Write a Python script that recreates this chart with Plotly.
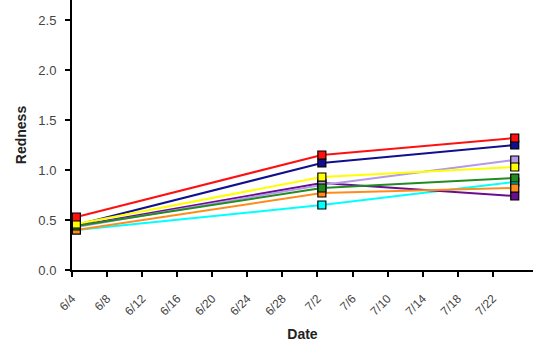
import pandas as pd
import plotly.graph_objects as go

# Sampling dates and redness scores per treatment
dates = ["2023-06-04", "2023-07-02", "2023-07-24"]
cyan_vals = [0.40, 0.65, 0.88]
purple_vals = [0.44, 0.87, 0.74]
lavender_vals = [0.43, 0.85, 1.10]
blue_vals = [0.45, 1.07, 1.25]
orange_vals = [0.40, 0.77, 0.82]
green_vals = [0.44, 0.82, 0.92]
yellow_vals = [0.46, 0.93, 1.03]
red_vals = [0.53, 1.15, 1.32]

tick_dates = pd.date_range("2023-06-04", "2023-07-22", freq="4D")
tick_text = [f"{d.month}/{d.day}" for d in tick_dates]

series = [
    ("cyan", cyan_vals, "#00ffff"),
    ("purple", purple_vals, "#6a0d91"),
    ("lavender", lavender_vals, "#b399e6"),
    ("blue", blue_vals, "#10108f"),
    ("orange", orange_vals, "#ff8c1a"),
    ("green", green_vals, "#228b22"),
    ("yellow", yellow_vals, "#ffff00"),
    ("red", red_vals, "#ff1010"),
]

# points are recorded at midday
x = pd.to_datetime(dates) + pd.Timedelta(hours=12)

fig = go.Figure()
for name, vals, color in series:
    fig.add_trace(go.Scatter(
        x=x, y=vals, name=name, mode="lines+markers",
        line=dict(color=color, width=2),
        marker=dict(symbol="square", size=8, color=color,
                    line=dict(color="#000000", width=1.2)),
        showlegend=False,
    ))

font = "Liberation Sans, Arial, sans-serif"
fig.update_layout(
    width=541, height=350,
    margin=dict(l=72, r=8, t=0, b=80),
    paper_bgcolor="white", plot_bgcolor="white",
    font=dict(family=font, size=12, color="#444444"),
    xaxis=dict(
        type="date",
        range=["2023-06-04", "2023-07-26 14:00"],
        tickvals=tick_dates, ticktext=tick_text,
        tickangle=-45, tickfont=dict(size=12, color="#444444"),
        ticks="outside", ticklen=5, tickwidth=2, tickcolor="#000000",
        ticklabelstandoff=10,
        showline=True, linecolor="#000000", linewidth=2,
        showgrid=False, zeroline=False,
        title=dict(text="<b>Date</b>", font=dict(size=14, color="#222222"), standoff=12),
    ),
    yaxis=dict(
        range=[0, 2.7],
        tickvals=[0, 0.5, 1.0, 1.5, 2.0, 2.5],
        tickformat=".1f",
        tickfont=dict(size=13, color="#444444"),
        ticks="outside", ticklen=5, tickwidth=2, tickcolor="#000000",
        ticklabelstandoff=6,
        showline=True, linecolor="#000000", linewidth=2,
        showgrid=False, zeroline=False,
        title=dict(text="<b>Redness</b>", font=dict(size=14, color="#222222"), standoff=8),
    ),
)

fig.write_html("out.html")
